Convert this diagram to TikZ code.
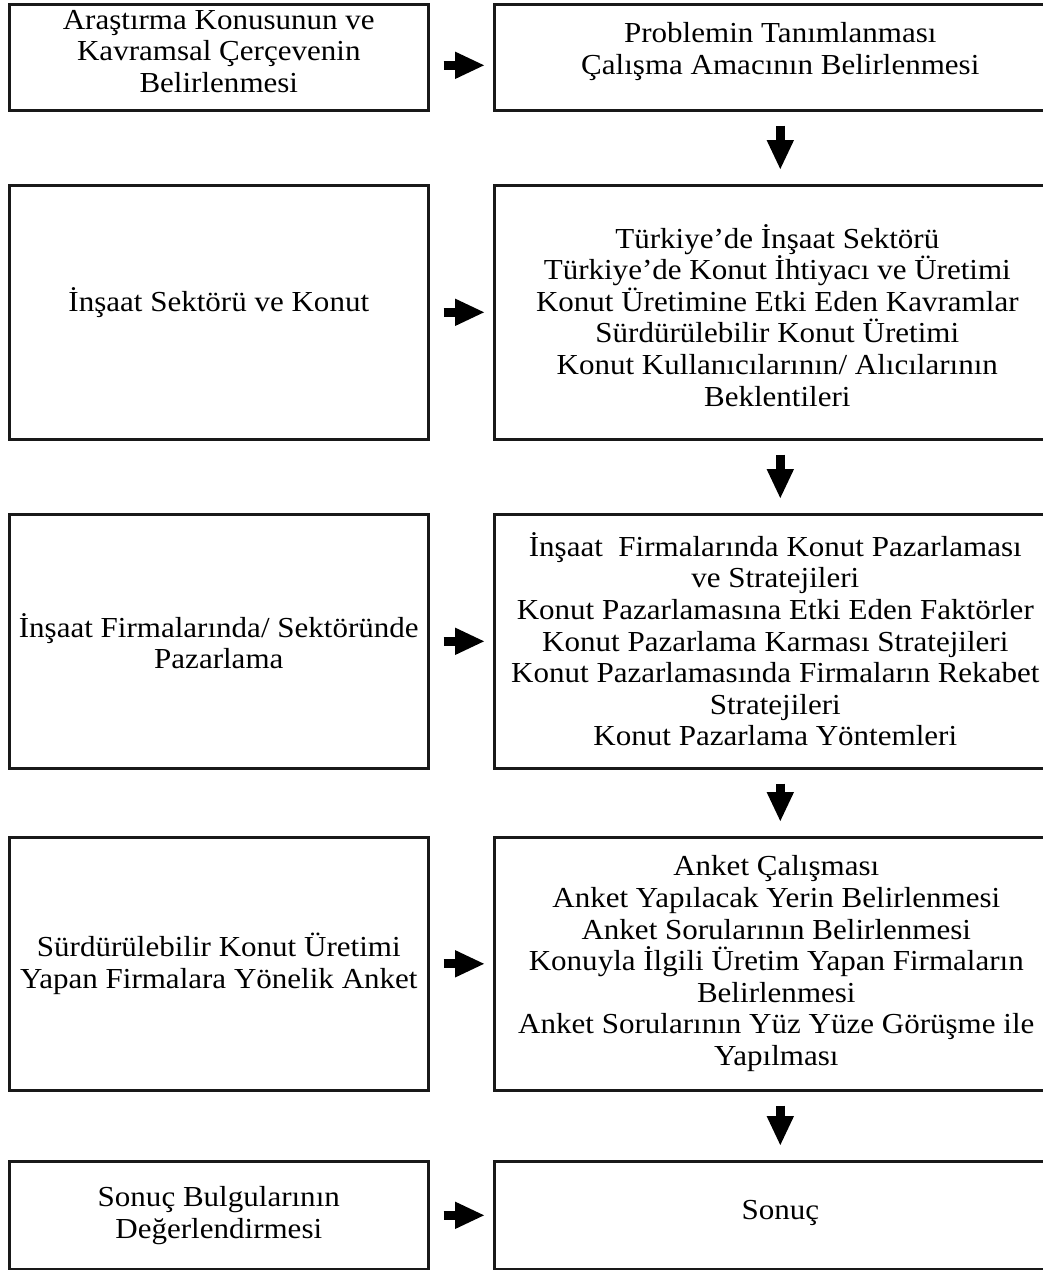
\documentclass[tikz,border=0pt]{standalone}
\usepackage{fontspec}
\setmainfont[FakeStretch=1.07]{Liberation Serif}
\usetikzlibrary{arrows.meta}

\begin{document}
\begin{tikzpicture}[x=1pt,y=1pt,
  box/.style={draw=black!90, line width=2.6pt, inner sep=0pt, anchor=north west, fill=white},
  lbox/.style={box, minimum width=419pt},
  rbox/.style={box, minimum width=572pt},
  txt/.style={align=center, inner sep=0pt, font=\fontsize{29}{31.6}\selectfont},
  flow/.style={line width=9pt, -{Triangle[length=30pt,width=25pt]}, black},
  hflow/.style={flow, shorten <=14pt, shorten >=8pt},
  vflow/.style={flow, shorten <=14pt, shorten >=14pt}
]
\useasboundingbox[fill=white] (0,0) rectangle (1043,-1270);

% left column
\node[lbox, minimum height=106pt] (l1) at (8,-3) {};
\node[lbox, minimum height=254pt] (l2) at (8,-184) {};
\node[lbox, minimum height=254pt] (l3) at (8,-513) {};
\node[lbox, minimum height=253pt] (l4) at (8,-836) {};
\node[lbox, minimum height=108pt] (l5) at (8,-1160) {};

% right column (runs past the right edge)
\node[rbox, minimum height=106pt] (r1) at (493,-3) {};
\node[rbox, minimum height=254pt] (r2) at (493,-184) {};
\node[rbox, minimum height=254pt] (r3) at (493,-513) {};
\node[rbox, minimum height=253pt] (r4) at (493,-836) {};
\node[rbox, minimum height=108pt] (r5) at (493,-1160) {};

% texts
\node[txt] (tl1) at ([yshift=6]l1.center) {Araştırma Konusunun ve\\Kavramsal Çerçevenin\\Belirlenmesi};
\node[txt] (tl2) at ([yshift=10]l2.center) {İnşaat Sektörü ve Konut};
\node[txt] (tl3) at ([yshift=0]l3.center) {İnşaat Firmalarında/ Sektöründe\\Pazarlama};
\node[txt] (tl4) at ([yshift=0]l4.center) {Sürdürülebilir Konut Üretimi\\Yapan Firmalara Yönelik Anket};
\node[txt] (tl5) at ([yshift=0]l5.center) {Sonuç Bulgularının\\Değerlendirmesi};

\node[txt] (tr1) at ([yshift=6]r1.center) {Problemin Tanımlanması\\Çalışma Amacının Belirlenmesi};
\node[txt] (tr2) at ([xshift=-3,yshift=-3]r2.center) {Türkiye’de İnşaat Sektörü\\Türkiye’de Konut İhtiyacı ve Üretimi\\Konut Üretimine Etki Eden Kavramlar\\Sürdürülebilir Konut Üretimi\\Konut Kullanıcılarının/ Alıcılarının\\Beklentileri};
\node[txt] (tr3) at ([xshift=-5,yshift=2]r3.center) {İnşaat~ Firmalarında Konut Pazarlaması\\ve Stratejileri\\Konut Pazarlamasına Etki Eden Faktörler\\Konut Pazarlama Karması Stratejileri\\Konut Pazarlamasında Firmaların Rekabet\\Stratejileri\\Konut Pazarlama Yöntemleri};
\node[txt] (tr4) at ([xshift=-4,yshift=0]r4.center) {Anket Çalışması\\Anket Yapılacak Yerin Belirlenmesi\\Anket Sorularının Belirlenmesi\\Konuyla İlgili Üretim Yapan Firmaların\\Belirlenmesi\\Anket Sorularının Yüz Yüze Görüşme ile\\Yapılması};
\node[txt] (tr5) at ([yshift=2]r5.center) {Sonuç};

% horizontal arrows
\draw[hflow] ([yshift=-8]l1.east) -- ([yshift=-8]r1.west);
\draw[hflow] (l2.east) -- (r2.west);
\draw[hflow] (l3.east) -- (r3.west);
\draw[hflow] (l4.east) -- (r4.west);
\draw[hflow] (l5.east) -- (r5.west);

% vertical arrows
\draw[vflow] (r1.south) -- (r2.north);
\draw[vflow] (r2.south) -- (r3.north);
\draw[vflow] (r3.south) -- (r4.north);
\draw[vflow] (r4.south) -- (r5.north);
\end{tikzpicture}
\end{document}
